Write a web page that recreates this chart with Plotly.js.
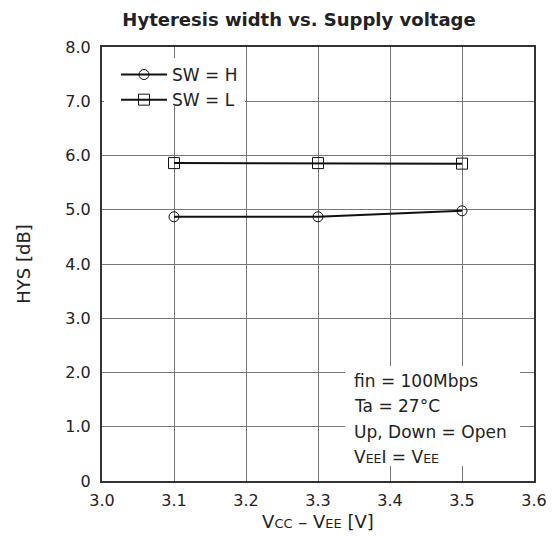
<!DOCTYPE html>
<html><head><meta charset="utf-8">
<script src="https://cdn.plot.ly/plotly-3.0.1.min.js"></script>
<style>body{margin:0;padding:0;background:#fff}#chart{width:555px;height:544px}</style>
</head><body><div id="chart"></div>
<script>
const supplyVoltage = [3.1, 3.3, 3.5];
const hysSwH = [4.87, 4.87, 4.98];
const hysSwL = [5.86, 5.86, 5.85];
const seriesNames = ["SW = H", "SW = L"];
const xTicks = [3.0, 3.1, 3.2, 3.3, 3.4, 3.5, 3.6];
const yTicks = [0, 1, 2, 3, 4, 5, 6, 7, 8];
const conditionLines = ["fin = 100Mbps", "Ta = 27°C", "Up, Down = Open",
  "V<span style='font-size:12.5px'>EE</span>I = V<span style='font-size:12.5px'>EE</span>"];

const font = "DejaVu Sans, sans-serif";
const txt = "#222";
const traces = [
  {x: supplyVoltage, y: hysSwH, name: seriesNames[0], mode: "lines+markers",
   line: {color: "#111", width: 2},
   marker: {symbol: "circle-open", size: 10, color: "#111", line: {width: 1}}},
  {x: supplyVoltage, y: hysSwL, name: seriesNames[1], mode: "lines+markers",
   line: {color: "#111", width: 2},
   marker: {symbol: "square-open", size: 11, color: "#111", line: {width: 1}}}
];
const annotations = conditionLines.map((t, i) => ({
  xref: "paper", yref: "paper", x: (352 - 102) / 432, y: (481 - (381 + i * 25.3)) / 434,
  xanchor: "left", yanchor: "middle", text: t, showarrow: false,
  font: {family: font, size: 17, color: txt}
}));
const layout = {
  width: 555, height: 544,
  margin: {l: 102, r: 21, t: 47, b: 63},
  paper_bgcolor: "#fff", plot_bgcolor: "#fff",
  font: {family: font, size: 16, color: txt},
  title: {text: "<b>Hyteresis width vs. Supply voltage</b>", x: 299 / 555, xanchor: "center",
          y: 1 - 20 / 544, yanchor: "middle", font: {family: font, size: 18, color: txt}},
  xaxis: {range: [3.0, 3.6], tickvals: xTicks, ticktext: xTicks.map(v => v.toFixed(1)),
          showgrid: true, gridcolor: "#777", gridwidth: 1, zeroline: false,
          showline: true, linecolor: "#333", linewidth: 2, mirror: true,
          ticks: "outside", ticklen: 4, tickcolor: "rgba(0,0,0,0)",
          tickfont: {family: font, size: 16, color: txt},
          title: {text: "V<span style='font-size:13px'>CC</span> – V<span style='font-size:13px'>EE</span> [V]",
                  font: {family: font, size: 18, color: txt}, standoff: 6}},
  yaxis: {range: [0, 8], tickvals: yTicks, ticktext: yTicks.map(v => v.toFixed(v === 0 ? 0 : 1)),
          showgrid: true, gridcolor: "#777", gridwidth: 1, zeroline: false,
          showline: true, linecolor: "#333", linewidth: 2, mirror: true,
          ticks: "outside", ticklen: 6, tickcolor: "rgba(0,0,0,0)",
          tickfont: {family: font, size: 16, color: txt},
          title: {text: "HYS [dB]", font: {family: font, size: 18, color: txt}, standoff: 30}},
  legend: {x: (116 - 102) / 432, y: (481 - 57) / 434, xanchor: "left", yanchor: "top",
           bgcolor: "rgba(0,0,0,0)", borderwidth: 0, font: {family: font, size: 17, color: txt},
           tracegroupgap: 0, itemwidth: 46},
  shapes: [
    {type: "rect", xref: "paper", yref: "paper", layer: "above",
     x0: (345 - 102) / 432, x1: (520 - 102) / 432,
     y0: (481 - 466) / 434, y1: (481 - 366) / 434,
     fillcolor: "#fff", line: {width: 0}},
    {type: "rect", xref: "paper", yref: "paper", layer: "above",
     x0: 2 / 432, x1: (245 - 102) / 432,
     y0: (481 - 106) / 434, y1: (481 - 58) / 434,
     fillcolor: "#fff", line: {width: 0}}
  ],
  annotations: annotations,
  showlegend: true
};
Plotly.newPlot("chart", traces, layout, {displayModeBar: false, staticPlot: true});
</script></body></html>
